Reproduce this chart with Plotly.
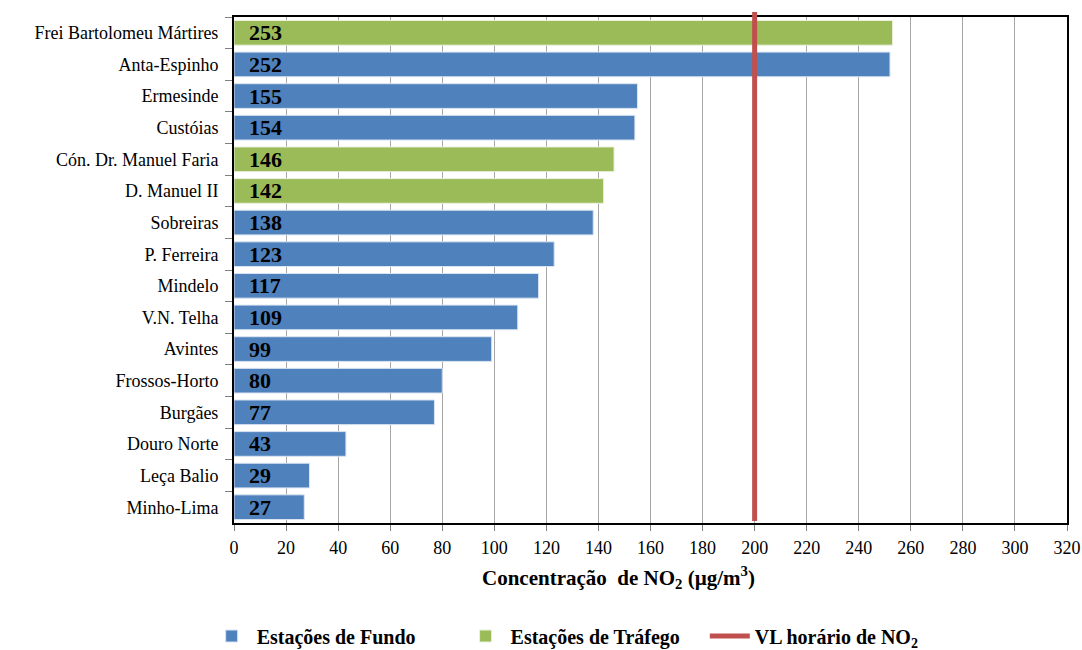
import plotly.graph_objects as go

# stations, top to bottom
stations = ["Frei Bartolomeu Mártires", "Anta-Espinho", "Ermesinde", "Custóias",
            "Cón. Dr. Manuel Faria", "D. Manuel II", "Sobreiras", "P. Ferreira",
            "Mindelo", "V.N. Telha", "Avintes", "Frossos-Horto", "Burgães",
            "Douro Norte", "Leça Balio", "Minho-Lima"]
values = [253, 252, 155, 154, 146, 142, 138, 123, 117, 109, 99, 80, 77, 43, 29, 27]
station_type = ["T", "F", "F", "F", "T", "T", "F", "F", "F", "F", "F", "F", "F", "F", "F", "F"]
limit_value = 200

FONT = "Liberation Serif"
BLUE = "#4F81BD"
GREEN = "#9BBB59"
RED = "#C0504D"
NBSP = "\u00a0"

fundo = [(s, v) for s, v, t in zip(stations, values, station_type) if t == "F"]
trafego = [(s, v) for s, v, t in zip(stations, values, station_type) if t == "T"]

fig = go.Figure()
fig.add_trace(go.Bar(
    y=[s for s, _ in fundo], x=[v for _, v in fundo], orientation="h",
    name="<b>Estações de Fundo</b>" + NBSP * 8,
    marker=dict(color=BLUE, line=dict(color="#dbe5f1", width=1)),
))
fig.add_trace(go.Bar(
    y=[s for s, _ in trafego], x=[v for _, v in trafego], orientation="h",
    name="<b>Estações de Tráfego</b>" + NBSP * 4,
    marker=dict(color=GREEN, line=dict(color="#ebf1de", width=1)),
))

# value labels at the base of each bar
for s, v in zip(stations, values):
    fig.add_annotation(x=0, y=s, text=f"<b>{v}</b>", showarrow=False,
                       xanchor="left", xshift=13,
                       font=dict(family=FONT, size=22, color="black"))

# hourly limit value line
fig.add_shape(type="line", xref="x", yref="paper", x0=limit_value, x1=limit_value,
              y0=0.004, y1=1.01, line=dict(color=RED, width=5),
              showlegend=True, name="<b>VL horário de NO<sub>2</sub></b>")

# axis title
fig.add_annotation(xref="paper", yref="paper", x=0.462, y=-0.107,
                   xanchor="center", yanchor="middle", showarrow=False,
                   text="<b>Concentração  de NO<sub>2</sub> (µg/m<sup>3</sup>)</b>",
                   font=dict(family=FONT, size=21, color="black"))

fig.update_layout(
    width=1082, height=650,
    margin=dict(l=234, r=15, t=17, b=127),
    plot_bgcolor="white", paper_bgcolor="white",
    barmode="overlay", bargap=0.22,
    font=dict(family=FONT, size=18, color="black"),
    legend=dict(orientation="h", xref="container", yref="container",
                x=0.191, xanchor="left", y=0.0215, yanchor="middle",
                font=dict(size=20, family=FONT), itemwidth=40, traceorder="normal"),
    xaxis=dict(range=[0, 320], dtick=20, showgrid=True, gridcolor="#a6a6a6", gridwidth=1,
               ticks="outside", ticklen=6, tickcolor="#7f7f7f", ticklabelstandoff=1,
               showline=True, linecolor="black", linewidth=2, mirror=True,
               zeroline=False, tickfont=dict(size=18), automargin=False),
    yaxis=dict(categoryorder="array", categoryarray=stations, autorange="reversed",
               ticks="outside", ticklen=7, tickcolor="#7f7f7f", tickson="boundaries",
               ticklabelstandoff=10,
               showline=True, linecolor="black", linewidth=2, mirror=True,
               tickfont=dict(size=18), automargin=False),
)

# drop the default page margin so the figure fills the window exactly
fig.write_html("out.html", config={"displayModeBar": False},
               post_script="document.body.style.margin = '0';")
